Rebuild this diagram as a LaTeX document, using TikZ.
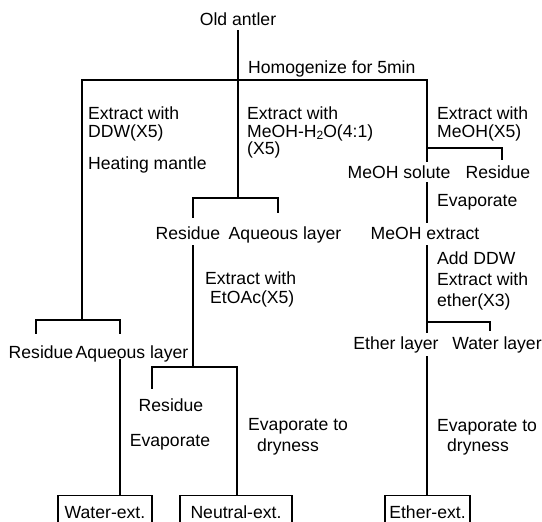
\documentclass[tikz,border=0pt]{standalone}
\usepackage{fontspec}
\setmainfont{Liberation Sans}
\begin{document}
\begin{tikzpicture}[x=1pt,y=-1pt,
  lbl/.style={inner sep=0pt,anchor=base,font=\fontsize{17.6}{18}\selectfont},
  ann/.style={inner sep=0pt,anchor=base west,font=\fontsize{17.6}{18}\selectfont},
  conn/.style={line width=1.1pt,line cap=rect},
  extbox/.style={draw,line width=1.1pt,anchor=north,minimum height=34pt,inner sep=0pt,font=\fontsize{17.6}{18}\selectfont}]
\useasboundingbox (0,0) rectangle (542,522);
% top
\node[lbl] (old) at (238,26) {Old antler};
\node[ann] (homo) at (248,74) {Homogenize for 5min};
\coordinate (s1) at (238,80);
\coordinate (s1L) at (82,80);
\coordinate (s1R) at (427,80);
\draw[conn] (old.south |- 0,31) -- (s1);
\draw[conn] (s1L) -- (s1R);
% left branch
\node[ann] (la1) at (88,119) {Extract with};
\node[ann] (la2) at (88,137) {DDW(X5)};
\node[ann] (la3) at (88,169) {Heating mantle};
\coordinate (s2) at (82,320);
\coordinate (s2L) at (36,320);
\coordinate (s2R) at (120,320);
\draw[conn] (s1L) -- (s2);
\draw[conn] (s2L) -- (s2R);
\node[lbl] (lres) at (41,358) {Residue};
\node[lbl] (laq) at (132,358) {Aqueous layer};
\draw[conn] (s2L) -- (36,333);
\draw[conn] (s2R) -- (120,333);
\node[extbox,minimum width=94pt] (water) at (105,495) {Water-ext.};
\draw[conn] (120,360) -- (water.north -| 120,0);
% middle branch
\node[ann] (ma1) at (247,119) {Extract with};
\node[ann] (ma2) at (247,137) {MeOH-H\raisebox{-0.25ex}{\fontsize{12}{12}\selectfont 2}O(4:1)};
\node[ann] (ma3) at (247,154) {(X5)};
\coordinate (s3) at (238,198);
\coordinate (s3L) at (193,198);
\coordinate (s3R) at (278,198);
\draw[conn] (s1) -- (s3);
\draw[conn] (s3L) -- (s3R);
\draw[conn] (s3L) -- (193,217);
\draw[conn] (s3R) -- (278,212);
\node[lbl] (mres) at (188,239) {Residue};
\node[lbl] (maq) at (285,239) {Aqueous layer};
\node[ann] (mb1) at (205,284) {Extract with};
\node[ann] (mb2) at (210,303) {EtOAc(X5)};
\coordinate (s4) at (193,367);
\coordinate (s4L) at (152,367);
\coordinate (s4R) at (237,367);
\draw[conn] (193,246) -- (s4);
\draw[conn] (s4L) -- (s4R);
\draw[conn] (s4L) -- (152,388);
\node[lbl] (mres2) at (171,411) {Residue};
\node[lbl] (mevap) at (170,446) {Evaporate};
\node[ann] (mc1) at (248,430) {Evaporate to};
\node[ann] (mc2) at (257,451) {dryness};
\node[extbox,minimum width=112pt] (neutral) at (236,495) {Neutral-ext.};
\draw[conn] (s4R) -- (neutral.north -| 237,0);
% right branch
\node[ann] (ra1) at (437,119) {Extract with};
\node[ann] (ra2) at (437,137) {MeOH(X5)};
\coordinate (s5) at (427,148);
\coordinate (s5R) at (502,148);
\draw[conn] (s1R) -- (s5);
\draw[conn] (s5) -- (s5R);
\draw[conn] (s5) -- (427,161);
\draw[conn] (s5R) -- (502,159);
\node[lbl] (msol) at (399,178) {MeOH solute};
\node[lbl] (rres) at (498,178) {Residue};
\node[ann] (rev) at (437,206) {Evaporate};
\node[lbl] (mext) at (425,239) {MeOH extract};
\draw[conn] (427,183) -- (427,222);
\node[ann] (rb1) at (437,264) {Add DDW};
\node[ann] (rb2) at (437,285) {Extract with};
\node[ann] (rb3) at (437,306) {ether(X3)};
\coordinate (s6) at (427,322);
\coordinate (s6R) at (490,322);
\draw[conn] (427,246) -- (427,332);
\draw[conn] (s6) -- (s6R);
\draw[conn] (s6R) -- (490,330);
\node[lbl] (eth) at (396,349) {Ether layer};
\node[lbl] (wat) at (497,349) {Water layer};
\node[ann] (rc1) at (437,431) {Evaporate to};
\node[ann] (rc2) at (447,451) {dryness};
\node[extbox,minimum width=85pt] (ether) at (427.5,495) {Ether-ext.};
\draw[conn] (427,357) -- (ether.north -| 427,0);
\end{tikzpicture}
\end{document}
